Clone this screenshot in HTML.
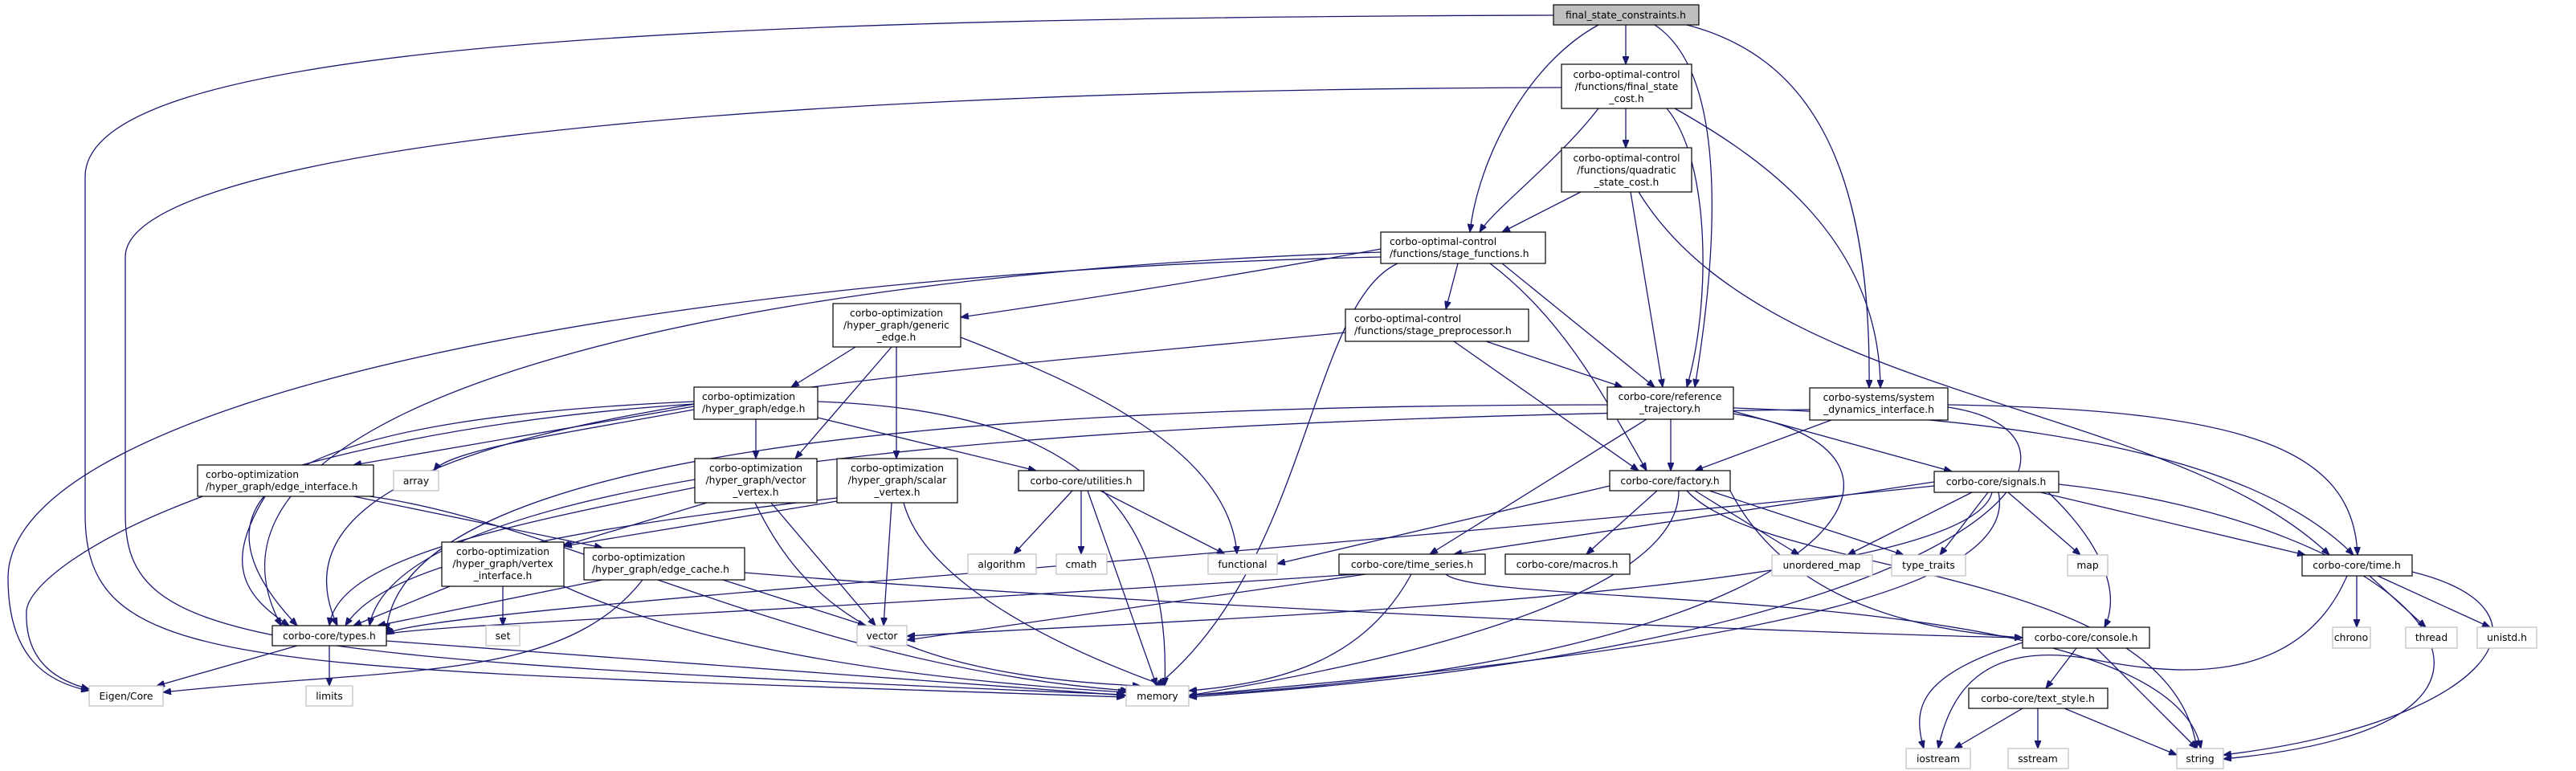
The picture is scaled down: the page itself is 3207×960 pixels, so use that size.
<!DOCTYPE html>
<html><head><meta charset="utf-8"><style>
html,body{margin:0;padding:0;background:#fff;}
svg{display:block}
text{font-family:"DejaVu Sans","Liberation Sans",sans-serif;font-size:12.3px;fill:#000}
.n{fill:#fff;stroke:#000;stroke-width:1.2}
.g{fill:#fff;stroke:#bfbfbf;stroke-width:1.2}
.e{fill:none;stroke:#191970;stroke-width:1.3}
</style></head><body>
<svg width="3207" height="960" viewBox="0 0 3207 960" xmlns="http://www.w3.org/2000/svg">
<defs><marker id="a" viewBox="0 0 10 8" refX="10" refY="4" markerWidth="10" markerHeight="8" markerUnits="userSpaceOnUse" orient="auto"><path d="M0,0 L10,4 L0,8 z" fill="#191970" stroke="#191970"/></marker></defs>
<g class="e" marker-end="url(#a)">
<path d="M2024,31 L2024,80"/>
<path d="M1990,31 C1900,80 1840,200 1830,289"/>
<path d="M2060,31 C2150,90 2140,300 2110,482"/>
<path d="M2100,31 C2250,70 2330,200 2327,483"/>
<path d="M1934,19 C800,22 106,60 106,220 L106,640 C106,840 300,830 1400,868"/>
<path d="M1944,109 C800,112 156,200 156,320 L156,640 C156,800 300,820 1400,865"/>
<path d="M2024,135 L2024,184"/>
<path d="M1990,135 C1940,200 1860,260 1842,289"/>
<path d="M2075,135 C2130,200 2130,380 2100,482"/>
<path d="M2085,135 C2200,200 2340,300 2341,483"/>
<path d="M1968,239 L1870,289"/>
<path d="M2030,239 L2070,482"/>
<path d="M2040,239 C2200,500 2700,500 2900,691"/>
<path d="M1719,310 C1500,350 1300,380 1196,395"/>
<path d="M1815,328 L1800,385"/>
<path d="M1870,328 L2060,482"/>
<path d="M1855,328 C1950,400 2000,500 2050,586"/>
<path d="M1740,328 C1630,380 1630,700 1440,854"/>
<path d="M1719,314 C900,340 200,500 350,779"/>
<path d="M1719,320 C800,340 10,500 10,720 C10,820 60,850 111,860"/>
<path d="M1065,432 L985,482"/>
<path d="M1110,432 L990,571"/>
<path d="M1116,432 L1116,571"/>
<path d="M1196,420 C1350,480 1530,560 1540,690"/>
<path d="M1675,414 C1000,480 300,520 420,779"/>
<path d="M1850,425 L2020,482"/>
<path d="M1810,425 L2040,586"/>
<path d="M941,522 L941,571"/>
<path d="M864,506 L440,579"/>
<path d="M864,510 C700,540 560,560 540,586"/>
<path d="M1018,520 L1290,586"/>
<path d="M1018,500 C1300,510 1460,600 1450,854"/>
<path d="M864,500 C400,520 200,600 370,779"/>
<path d="M864,503 C300,540 40,700 33,760 C30,830 80,850 111,858"/>
<path d="M330,618 C280,700 300,740 360,779"/>
<path d="M440,618 L750,682"/>
<path d="M460,618 C700,650 1000,830 1405,860"/>
<path d="M865,607 C600,660 420,700 410,779"/>
<path d="M880,626 L700,680"/>
<path d="M960,626 L1090,779"/>
<path d="M940,626 C1000,750 1100,840 1420,854"/>
<path d="M1110,626 L1100,779"/>
<path d="M1125,626 C1150,720 1300,800 1450,854"/>
<path d="M1042,624 L702,680"/>
<path d="M1042,620 C700,660 480,700 430,779"/>
<path d="M1335,611 L1262,690"/>
<path d="M1346,611 L1346,690"/>
<path d="M1354,611 L1440,854"/>
<path d="M1370,611 L1525,690"/>
<path d="M560,730 L440,779"/>
<path d="M626,730 L626,779"/>
<path d="M702,730 C900,820 1200,850 1402,862"/>
<path d="M750,722 L470,779"/>
<path d="M900,722 L1078,779"/>
<path d="M800,722 C700,850 500,830 203,862"/>
<path d="M927,713 C1500,760 2300,790 2518,794"/>
<path d="M370,804 L195,854"/>
<path d="M410,804 L410,854"/>
<path d="M481,798 L1402,866"/>
<path d="M2080,522 L2080,586"/>
<path d="M2050,522 L1780,690"/>
<path d="M2001,504 C1200,505 500,560 481,786"/>
<path d="M2158,512 L2430,587"/>
<path d="M2158,508 C2500,520 2800,560 2930,691"/>
<path d="M2158,515 C2450,560 2300,820 1480,866"/>
<path d="M2280,523 L2110,586"/>
<path d="M2425,504 C2800,510 2930,560 2935,691"/>
<path d="M2253,510 C1500,520 500,560 460,779"/>
<path d="M2425,507 C2650,540 2500,800 1480,868"/>
<path d="M2004,605 L1590,702"/>
<path d="M2063,611 L1975,690"/>
<path d="M2090,611 C2090,750 1700,830 1480,866"/>
<path d="M2110,611 L2240,691"/>
<path d="M2128,611 L2370,691"/>
<path d="M2154,611 C2200,700 2300,780 2518,794"/>
<path d="M2100,611 C2200,720 2700,700 2735,932"/>
<path d="M2408,600 L1810,690"/>
<path d="M2408,605 C1500,700 500,760 481,790"/>
<path d="M2455,613 L2300,691"/>
<path d="M2475,613 L2415,691"/>
<path d="M2500,613 L2590,691"/>
<path d="M2540,613 L2870,691"/>
<path d="M2550,613 C2620,680 2640,740 2620,781"/>
<path d="M2563,603 C3000,650 3250,900 2768,945"/>
<path d="M2488,613 C2520,760 2000,820 1480,866"/>
<path d="M2480,613 C2450,740 1500,770 1129,792"/>
<path d="M1700,715 L1129,797"/>
<path d="M1757,715 C1700,820 1600,850 1480,860"/>
<path d="M1800,715 C1850,760 2700,720 2740,932"/>
<path d="M1690,715 C1000,760 500,780 481,790"/>
<path d="M2934,717 L2934,781"/>
<path d="M2950,717 L3020,781"/>
<path d="M2960,717 L3100,781"/>
<path d="M3003,712 C3200,760 3100,900 2768,940"/>
<path d="M2922,717 C2860,860 2700,840 2600,820 C2480,800 2430,850 2413,932"/>
<path d="M2585,807 L2547,857"/>
<path d="M2610,807 L2735,932"/>
<path d="M2518,800 C2390,840 2380,880 2395,932"/>
<path d="M2518,882 L2433,932"/>
<path d="M2537,882 L2537,932"/>
<path d="M2570,882 L2710,940"/>
</g>
<g>
<rect x="1934" y="6" width="181" height="25" fill="#bfbfbf" stroke="#000" stroke-width="1.2"/>
<text x="2024" y="23" text-anchor="middle">final_state_constraints.h</text>
<rect class="n" x="1944" y="80" width="162" height="55"/><text x="2025" y="97" text-anchor="middle">corbo-optimal-control</text><text x="2025" y="112" text-anchor="middle">/functions/final_state</text><text x="2025" y="127" text-anchor="middle">_cost.h</text>
<rect class="n" x="1944" y="184" width="162" height="55"/><text x="2025" y="201" text-anchor="middle">corbo-optimal-control</text><text x="2025" y="216" text-anchor="middle">/functions/quadratic</text><text x="2025" y="231" text-anchor="middle">_state_cost.h</text>
<rect class="n" x="1719" y="289" width="205" height="39"/><text x="1730" y="305">corbo-optimal-control</text><text x="1730" y="320">/functions/stage_functions.h</text>
<rect class="n" x="1675" y="385" width="228" height="40"/><text x="1686" y="401">corbo-optimal-control</text><text x="1686" y="416">/functions/stage_preprocessor.h</text>
<rect class="n" x="1037" y="378" width="159" height="54"/><text x="1116" y="394" text-anchor="middle">corbo-optimization</text><text x="1116" y="409" text-anchor="middle">/hyper_graph/generic</text><text x="1116" y="424" text-anchor="middle">_edge.h</text>
<rect class="n" x="864" y="482" width="154" height="40"/><text x="874" y="498">corbo-optimization</text><text x="874" y="513">/hyper_graph/edge.h</text>
<rect class="n" x="246" y="579" width="219" height="39"/><text x="256" y="595">corbo-optimization</text><text x="256" y="610">/hyper_graph/edge_interface.h</text>
<rect class="g" x="490" y="586" width="56" height="25"/><text x="518" y="603" text-anchor="middle">array</text>
<rect class="n" x="865" y="571" width="152" height="55"/><text x="941" y="587" text-anchor="middle">corbo-optimization</text><text x="941" y="602" text-anchor="middle">/hyper_graph/vector</text><text x="941" y="617" text-anchor="middle">_vertex.h</text>
<rect class="n" x="1042" y="571" width="150" height="55"/><text x="1117" y="587" text-anchor="middle">corbo-optimization</text><text x="1117" y="602" text-anchor="middle">/hyper_graph/scalar</text><text x="1117" y="617" text-anchor="middle">_vertex.h</text>
<rect class="n" x="1268" y="586" width="156" height="25"/><text x="1346" y="603" text-anchor="middle">corbo-core/utilities.h</text>
<rect class="n" x="2001" y="482" width="157" height="40"/><text x="2079" y="498" text-anchor="middle">corbo-core/reference</text><text x="2079" y="513" text-anchor="middle">_trajectory.h</text>
<rect class="n" x="2253" y="483" width="172" height="40"/><text x="2339" y="499" text-anchor="middle">corbo-systems/system</text><text x="2339" y="514" text-anchor="middle">_dynamics_interface.h</text>
<rect class="n" x="2004" y="586" width="150" height="25"/><text x="2079" y="603" text-anchor="middle">corbo-core/factory.h</text>
<rect class="n" x="2408" y="587" width="155" height="26"/><text x="2485" y="604" text-anchor="middle">corbo-core/signals.h</text>
<rect class="n" x="550" y="675" width="152" height="55"/><text x="626" y="691" text-anchor="middle">corbo-optimization</text><text x="626" y="706" text-anchor="middle">/hyper_graph/vertex</text><text x="626" y="721" text-anchor="middle">_interface.h</text>
<rect class="n" x="727" y="682" width="200" height="40"/><text x="737" y="698">corbo-optimization</text><text x="737" y="713">/hyper_graph/edge_cache.h</text>
<rect class="g" x="1205" y="690" width="85" height="25"/><text x="1247" y="707" text-anchor="middle">algorithm</text>
<rect class="g" x="1315" y="690" width="63" height="25"/><text x="1346" y="707" text-anchor="middle">cmath</text>
<rect class="g" x="1504" y="690" width="86" height="25"/><text x="1547" y="707" text-anchor="middle">functional</text>
<rect class="n" x="1667" y="690" width="182" height="25"/><text x="1758" y="707" text-anchor="middle">corbo-core/time_series.h</text>
<rect class="n" x="1874" y="690" width="155" height="25"/><text x="1951" y="707" text-anchor="middle">corbo-core/macros.h</text>
<rect class="g" x="2206" y="691" width="125" height="26"/><text x="2268" y="708" text-anchor="middle">unordered_map</text>
<rect class="g" x="2355" y="691" width="92" height="26"/><text x="2401" y="708" text-anchor="middle">type_traits</text>
<rect class="g" x="2574" y="691" width="50" height="26"/><text x="2599" y="708" text-anchor="middle">map</text>
<rect class="n" x="2866" y="691" width="137" height="26"/><text x="2934" y="708" text-anchor="middle">corbo-core/time.h</text>
<rect class="n" x="339" y="779" width="142" height="25"/><text x="410" y="796" text-anchor="middle">corbo-core/types.h</text>
<rect class="g" x="605" y="779" width="42" height="25"/><text x="626" y="796" text-anchor="middle">set</text>
<rect class="g" x="1067" y="779" width="62" height="25"/><text x="1098" y="796" text-anchor="middle">vector</text>
<rect class="n" x="2518" y="781" width="158" height="26"/><text x="2597" y="798" text-anchor="middle">corbo-core/console.h</text>
<rect class="g" x="2904" y="781" width="47" height="26"/><text x="2927" y="798" text-anchor="middle">chrono</text>
<rect class="g" x="2995" y="781" width="64" height="26"/><text x="3027" y="798" text-anchor="middle">thread</text>
<rect class="g" x="3084" y="781" width="74" height="26"/><text x="3121" y="798" text-anchor="middle">unistd.h</text>
<rect class="g" x="111" y="854" width="92" height="25"/><text x="157" y="871" text-anchor="middle">Eigen/Core</text>
<rect class="g" x="381" y="854" width="58" height="25"/><text x="410" y="871" text-anchor="middle">limits</text>
<rect class="g" x="1402" y="854" width="78" height="25"/><text x="1441" y="871" text-anchor="middle">memory</text>
<rect class="n" x="2451" y="857" width="173" height="25"/><text x="2537" y="874" text-anchor="middle">corbo-core/text_style.h</text>
<rect class="g" x="2373" y="932" width="80" height="25"/><text x="2413" y="949" text-anchor="middle">iostream</text>
<rect class="g" x="2500" y="932" width="75" height="25"/><text x="2537" y="949" text-anchor="middle">sstream</text>
<rect class="g" x="2710" y="932" width="58" height="25"/><text x="2739" y="949" text-anchor="middle">string</text>
</g>
</svg>
</body></html>
